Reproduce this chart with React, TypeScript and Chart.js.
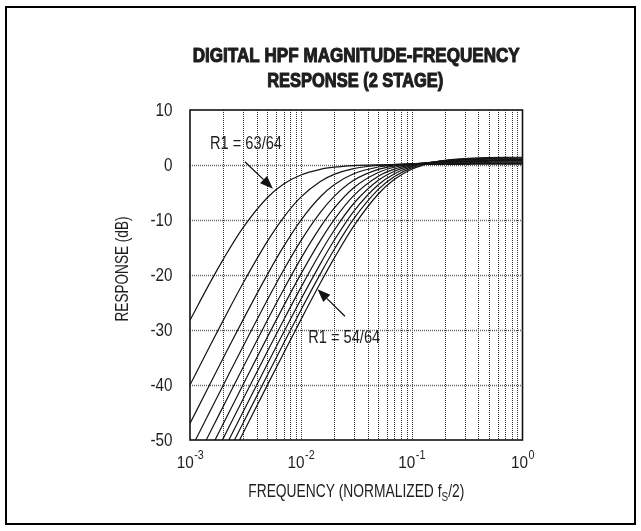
import React, { useEffect, useRef } from 'react';
import { Chart, registerables } from 'chart.js';

Chart.register(...registerables);

// Normalized frequency (f / (fs/2))
const FREQS = [0.001, 0.0015, 0.002, 0.003, 0.005, 0.007, 0.01, 0.015, 0.02, 0.03, 0.05, 0.07, 0.1, 0.15, 0.2, 0.3, 0.5, 0.7, 1.0];

// Response (dB) read for each R1 value
const R63 = [-28.21, -21.57, -17.11, -11.44, -5.91, -3.46, -1.81, -0.78, -0.39, -0.10, 0.05, 0.09, 0.12, 0.13, 0.13, 0.13, 0.14, 0.14, 0.14];
const R62 = [-39.99, -33.05, -28.20, -21.56, -13.85, -9.51, -5.84, -2.98, -1.70, -0.66, -0.07, 0.10, 0.19, 0.24, 0.25, 0.27, 0.27, 0.27, 0.27];
const R61 = [-46.99, -39.99, -35.06, -28.20, -19.88, -14.80, -10.05, -5.77, -3.58, -1.59, -0.36, 0.01, 0.22, 0.33, 0.37, 0.39, 0.41, 0.41, 0.41];
const R60 = [-51.97, -44.95, -39.99, -33.05, -24.49, -19.10, -13.80, -8.62, -5.70, -2.78, -0.80, -0.16, 0.20, 0.40, 0.47, 0.52, 0.54, 0.55, 0.55];
const R59 = [-55.84, -48.81, -43.84, -36.86, -28.18, -22.63, -17.03, -11.30, -7.85, -4.13, -1.36, -0.41, 0.14, 0.45, 0.56, 0.64, 0.68, 0.69, 0.69];
const R58 = [-59.00, -51.97, -46.99, -39.99, -31.25, -25.61, -19.84, -13.74, -9.92, -5.56, -2.03, -0.74, 0.03, 0.48, 0.64, 0.75, 0.81, 0.83, 0.83];
const R57 = [-61.68, -54.64, -49.66, -42.64, -33.87, -28.17, -22.29, -15.96, -11.87, -7.00, -2.78, -1.13, -0.11, 0.49, 0.71, 0.87, 0.95, 0.97, 0.98];
const R56 = [-64.00, -56.96, -51.97, -44.95, -36.15, -30.42, -24.46, -17.97, -13.69, -8.42, -3.58, -1.58, -0.30, 0.48, 0.76, 0.97, 1.08, 1.11, 1.12];
const R55 = [-66.04, -59.00, -54.01, -46.99, -38.17, -32.41, -26.40, -19.80, -15.37, -9.79, -4.42, -2.08, -0.52, 0.45, 0.81, 1.08, 1.22, 1.25, 1.27];
const R54 = [-67.87, -60.83, -55.84, -48.81, -39.98, -34.21, -28.16, -21.47, -16.94, -11.11, -5.27, -2.61, -0.77, 0.39, 0.84, 1.18, 1.35, 1.40, 1.41];

const SERIES_NAMES = ['63/64', '62/64', '61/64', '60/64', '59/64', '58/64', '57/64', '56/64', '55/64', '54/64'];
const SERIES = [R63, R62, R61, R60, R59, R58, R57, R56, R55, R54];

const Y_TICKS = [10, 0, -10, -20, -30, -40, -50];
const X_MAJOR = [0.001, 0.01, 0.1, 1];
const X_EXP = ['-3', '-2', '-1', '0'];
const X_MINOR_MULT = [2, 3, 4, 5, 6, 7, 8, 9];

const TITLE_1 = 'DIGITAL HPF MAGNITUDE-FREQUENCY';
const TITLE_2 = 'RESPONSE (2 STAGE)';
const Y_TITLE = 'RESPONSE (dB)';
const X_TITLE_A = 'FREQUENCY (NORMALIZED f';
const X_TITLE_SUB = 'S';
const X_TITLE_B = '/2)';
const LABEL_TOP = 'R1 = 63/64';
const LABEL_BOTTOM = 'R1 = 54/64';

// annotation anchors in data units
const LABEL_TOP_AT = { x: 0.0032, y: 3.8 };
const ARROW_TOP = { from: { x: 0.00313, y: 0.6 }, to: { x: 0.0056, y: -4.3 } };
const LABEL_BOTTOM_AT = { x: 0.0246, y: -31.4 };
const ARROW_BOTTOM = { from: { x: 0.025, y: -27.5 }, to: { x: 0.01414, y: -22.6 } };

const SANS = '"Liberation Sans", Arial, Helvetica, sans-serif';
const TEXT_COLOR = '#1e1e1e';

function drawFit(ctx: CanvasRenderingContext2D, text: string, cx: number, cy: number, font: string, targetW: number, rot = 0, stroke = 0) {
  ctx.save();
  ctx.font = font;
  const w = ctx.measureText(text).width;
  const sx = targetW / w;
  ctx.translate(cx, cy);
  if (rot) ctx.rotate(rot);
  ctx.scale(sx, 1);
  ctx.textAlign = 'center';
  ctx.textBaseline = 'middle';
  ctx.fillStyle = TEXT_COLOR;
  ctx.fillText(text, 0, 0);
  if (stroke) {
    ctx.strokeStyle = TEXT_COLOR;
    ctx.lineWidth = stroke;
    ctx.lineJoin = 'round';
    ctx.strokeText(text, 0, 0);
  }
  ctx.restore();
}

function drawArrow(ctx: CanvasRenderingContext2D, x1: number, y1: number, x2: number, y2: number) {
  const ang = Math.atan2(y2 - y1, x2 - x1);
  const hl = 13, hw = 5;
  const bx = x2 - hl * Math.cos(ang), by = y2 - hl * Math.sin(ang);
  ctx.save();
  ctx.strokeStyle = '#111';
  ctx.fillStyle = '#111';
  ctx.lineWidth = 1.3;
  ctx.beginPath();
  ctx.moveTo(x1, y1);
  ctx.lineTo(bx, by);
  ctx.stroke();
  ctx.beginPath();
  ctx.moveTo(x2, y2);
  ctx.lineTo(bx + hw * Math.sin(ang), by - hw * Math.cos(ang));
  ctx.lineTo(bx - hw * Math.sin(ang), by + hw * Math.cos(ang));
  ctx.closePath();
  ctx.fill();
  ctx.restore();
}

const overlay = {
  id: 'overlay',
  beforeDatasetsDraw(chart: any) {
    const { ctx, chartArea: a, scales } = chart;
    const xs = scales.x, ys = scales.y;
    ctx.save();
    ctx.lineWidth = 1;
    ctx.setLineDash([1, 1]);
    ctx.strokeStyle = '#333';
    const xv: number[] = [];
    X_MAJOR.forEach((d, i) => {
      xv.push(d);
      if (i < X_MAJOR.length - 1) X_MINOR_MULT.forEach((m) => xv.push(d * m));
    });
    xv.forEach((v) => {
      const px = Math.round(xs.getPixelForValue(v)) + 0.5;
      if (px <= a.left + 2 || px >= a.right - 2) return;
      ctx.beginPath();
      ctx.moveTo(px, a.top);
      ctx.lineTo(px, a.bottom);
      ctx.stroke();
    });
    ctx.strokeStyle = '#666';
    ctx.lineWidth = 1.5;
    Y_TICKS.forEach((v) => {
      const py = Math.round(ys.getPixelForValue(v)) + 0.5;
      if (py <= a.top + 2 || py >= a.bottom - 2) return;
      ctx.beginPath();
      ctx.moveTo(a.left, py);
      ctx.lineTo(a.right, py);
      ctx.stroke();
    });
    ctx.restore();
  },
  afterDraw(chart: any) {
    const { ctx, chartArea: a, scales } = chart;
    const xs = scales.x, ys = scales.y;
    // plot frame
    ctx.save();
    ctx.strokeStyle = '#111';
    ctx.lineWidth = 1.6;
    ctx.strokeRect(a.left, a.top, a.right - a.left, a.bottom - a.top);
    // outer border
    ctx.lineWidth = 2;
    ctx.strokeStyle = '#000';
    ctx.strokeRect(6, 7, 629, 517);
    ctx.restore();

    const cx = (a.left + a.right) / 2;
    // title
    drawFit(ctx, TITLE_1, cx, 56, `bold 20px ${SANS}`, 327, 0, 1.1);
    drawFit(ctx, TITLE_2, cx - 1, 81, `bold 20px ${SANS}`, 176, 0, 1.1);

    // y tick labels
    ctx.save();
    ctx.font = `18px ${SANS}`;
    const ysx = 22 / ctx.measureText('-50').width;
    ctx.restore();
    Y_TICKS.forEach((v) => {
      const py = ys.getPixelForValue(v);
      ctx.save();
      ctx.font = `18px ${SANS}`;
      ctx.fillStyle = TEXT_COLOR;
      ctx.textAlign = 'right';
      ctx.textBaseline = 'middle';
      ctx.translate(172.5, py + 1);
      ctx.scale(ysx, 1);
      ctx.fillText(String(v), 0, 0);
      ctx.restore();
    });

    // x tick labels 10^n
    X_MAJOR.forEach((v, i) => {
      const px = xs.getPixelForValue(v);
      ctx.save();
      ctx.font = `17px ${SANS}`;
      const sx = 17 / ctx.measureText('10').width;
      const wb = ctx.measureText('10').width * sx;
      ctx.font = `12px ${SANS}`;
      const we = ctx.measureText(X_EXP[i]).width * sx;
      const left = px - (wb + we) / 2;
      ctx.fillStyle = TEXT_COLOR;
      ctx.textBaseline = 'middle';
      ctx.textAlign = 'left';
      ctx.save();
      ctx.translate(left, a.bottom + 23);
      ctx.scale(sx, 1);
      ctx.font = `17px ${SANS}`;
      ctx.fillText('10', 0, 0);
      ctx.restore();
      ctx.save();
      ctx.translate(left + wb + 0.5, a.bottom + 16);
      ctx.scale(sx, 1);
      ctx.font = `12px ${SANS}`;
      ctx.fillText(X_EXP[i], 0, 0);
      ctx.restore();
      ctx.restore();
    });

    // x axis title with subscript
    ctx.save();
    ctx.font = `18px ${SANS}`;
    const wa = ctx.measureText(X_TITLE_A).width;
    const wb2 = ctx.measureText(X_TITLE_B).width;
    ctx.font = `13px ${SANS}`;
    const ws = ctx.measureText(X_TITLE_SUB).width;
    const tot = wa + ws + wb2;
    const sxt = 216 / tot;
    const ty = a.bottom + 52;
    ctx.translate(cx - 108, ty);
    ctx.scale(sxt, 1);
    ctx.fillStyle = TEXT_COLOR;
    ctx.textBaseline = 'middle';
    ctx.textAlign = 'left';
    ctx.font = `18px ${SANS}`;
    ctx.fillText(X_TITLE_A, 0, 0);
    ctx.font = `13px ${SANS}`;
    ctx.fillText(X_TITLE_SUB, wa, 5);
    ctx.font = `18px ${SANS}`;
    ctx.fillText(X_TITLE_B, wa + ws, 0);
    ctx.restore();

    // y axis title
    drawFit(ctx, Y_TITLE, 123, (a.top + a.bottom) / 2 - 6, `18px ${SANS}`, 105, -Math.PI / 2);

    // annotations
    drawFit(ctx, LABEL_TOP, xs.getPixelForValue(LABEL_TOP_AT.x), ys.getPixelForValue(LABEL_TOP_AT.y), `18px ${SANS}`, 72);
    drawFit(ctx, LABEL_BOTTOM, xs.getPixelForValue(LABEL_BOTTOM_AT.x), ys.getPixelForValue(LABEL_BOTTOM_AT.y), `18px ${SANS}`, 72);
    drawArrow(ctx,
      xs.getPixelForValue(ARROW_TOP.from.x), ys.getPixelForValue(ARROW_TOP.from.y),
      xs.getPixelForValue(ARROW_TOP.to.x), ys.getPixelForValue(ARROW_TOP.to.y));
    drawArrow(ctx,
      xs.getPixelForValue(ARROW_BOTTOM.from.x), ys.getPixelForValue(ARROW_BOTTOM.from.y),
      xs.getPixelForValue(ARROW_BOTTOM.to.x), ys.getPixelForValue(ARROW_BOTTOM.to.y));
  },
};

export default function App() {
  const ref = useRef<HTMLCanvasElement | null>(null);
  useEffect(() => {
    if (!ref.current) return;
    const chart = new Chart(ref.current, {
      type: 'line',
      data: {
        datasets: SERIES.map((vals, i) => ({
          label: 'R1 = ' + SERIES_NAMES[i],
          data: FREQS.map((f, j) => ({ x: f, y: vals[j] })),
          borderColor: '#141414',
          borderWidth: 1.2,
          pointRadius: 0,
          fill: false,
          cubicInterpolationMode: 'monotone',
        })),
      },
      options: {
        responsive: false,
        animation: false,
        events: [],
        layout: { padding: { left: 190, right: 118.5, top: 110, bottom: 91 } },
        plugins: { legend: { display: false }, tooltip: { enabled: false }, title: { display: false } },
        scales: {
          x: {
            type: 'logarithmic',
            min: 0.001,
            max: 1,
            ticks: { display: false },
            grid: { display: false, drawTicks: false },
            border: { display: false },
          },
          y: {
            type: 'linear',
            min: -50,
            max: 10,
            ticks: { display: false, stepSize: 10 },
            grid: { display: false, drawTicks: false },
            border: { display: false },
          },
        },
      },
      plugins: [overlay],
    } as any);
    return () => chart.destroy();
  }, []);
  return (
    <div style={{ position: 'fixed', left: 0, top: 0, width: 641, height: 531, background: '#fff' }}>
      <canvas ref={ref} width={641} height={531} style={{ display: 'block', width: 641, height: 531 }} />
    </div>
  );
}
